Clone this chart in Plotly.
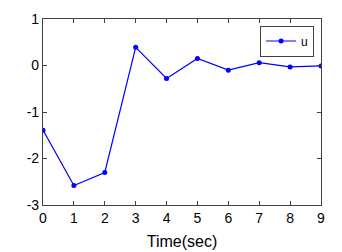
import plotly.graph_objects as go

time_sec = [0, 1, 2, 3, 4, 5, 6, 7, 8, 9]
u_values = [-1.39, -2.58, -2.30, 0.39, -0.28, 0.15, -0.10, 0.06, -0.03, -0.01]
x_ticks = [0, 1, 2, 3, 4, 5, 6, 7, 8, 9]
y_ticks = [-3, -2, -1, 0, 1]
y_tick_labels = ["-3", "-2", "-1", "0", "1"]

FONT = "Liberation Sans, Arial, sans-serif"

fig = go.Figure()
fig.add_trace(go.Scatter(
    x=time_sec, y=u_values, mode="lines+markers", name="u",
    line=dict(color="#0000ff", width=1.2),
    marker=dict(color="#0000ff", size=5, symbol="circle"),
))

axis_common = dict(
    showgrid=False, zeroline=False, showline=True, linecolor="#404040", linewidth=1.2,
    mirror="ticks", ticks="inside", ticklen=4, tickcolor="#404040", tickwidth=1,
    tickfont=dict(family=FONT, size=14, color="#000000"), automargin=False,
)
fig.update_xaxes(range=[0, 9], tickvals=x_ticks, **axis_common,
                 title=dict(text="Time(sec)", standoff=10,
                            font=dict(family=FONT, size=16, color="#000000")))
fig.update_yaxes(range=[-3, 1], tickvals=y_ticks, ticktext=y_tick_labels, **axis_common)

fig.update_layout(
    width=334, height=244,
    margin=dict(l=35, r=21, t=11, b=47),
    plot_bgcolor="white", paper_bgcolor="white",
    showlegend=True,
    legend=dict(x=0.975, y=0.965, xanchor="right", yanchor="top",
                bgcolor="white", bordercolor="#404040", borderwidth=1,
                font=dict(family=FONT, size=12, color="#000000"),
                itemwidth=30, tracegroupgap=0),
)
fig.write_html("out.html")
